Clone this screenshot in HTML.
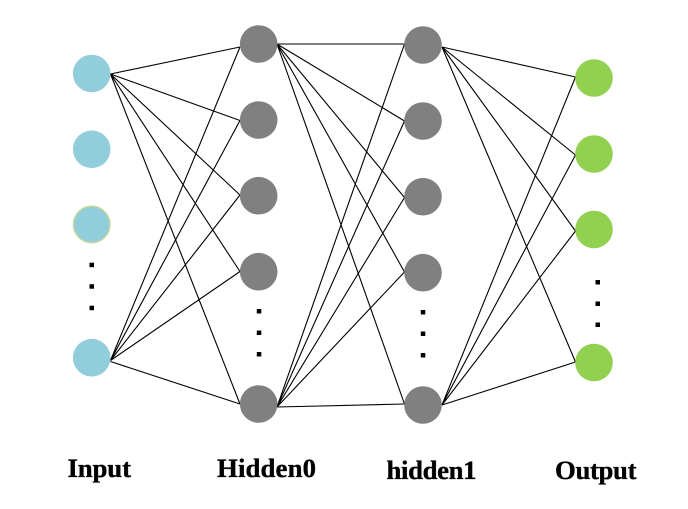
<!DOCTYPE html>
<html>
<head>
<meta charset="utf-8">
<style>
html,body{margin:0;padding:0;background:#fff;width:688px;height:509px;overflow:hidden}
svg{display:block}
text{font-family:"Liberation Serif",serif;font-weight:bold;font-size:26.8px;fill:#000;stroke:#000;stroke-width:.35px}
</style>
</head>
<body>
<svg width="688" height="509" viewBox="0 0 688 509" xmlns="http://www.w3.org/2000/svg">
<g stroke="#000" stroke-width="1.1" fill="none">
<path d="M110.5 74L240 47M110.5 74L240 120.5M110.5 74L240 195M110.5 74L240 271.5M110.5 74L240 404"/>
<path d="M110.5 360.5L240 47M110.5 360.5L240 120.5M110.5 360.5L240 195M110.5 360.5L240 271.5M110.5 361.5L240 404"/>
<path d="M277 44L404.5 44M277 44L404.5 121M277 44L404.5 197.5M277 44L404.5 272M277 44L404.5 404"/>
<path d="M277 407L404.5 44M277 407L404.5 121M277 407L404.5 197.5M277 407L404.5 272M277 407L404.5 404"/>
<path d="M442 47L575.5 77M442 47L575.5 155M442 47L575.5 231M442 47L575.5 362"/>
<path d="M442 405L575.5 77M442 405L575.5 155M442 405L575.5 231M442 405L575.5 362"/>
</g>
<g fill="#92cddc">
<circle cx="91.7" cy="73.5" r="18.8"/>
<circle cx="91.7" cy="149.3" r="18.8"/>
<circle cx="91.7" cy="224.5" r="18.2" stroke="#c3d69b" stroke-width="1.5"/>
<circle cx="91.7" cy="357.7" r="18.8"/>
</g>
<g fill="#808080">
<circle cx="258.7" cy="44" r="18.8"/>
<circle cx="258.7" cy="120" r="18.8"/>
<circle cx="258.7" cy="195.7" r="18.8"/>
<circle cx="258.7" cy="271.7" r="18.8"/>
<circle cx="258.7" cy="404" r="18.8"/>
<circle cx="423" cy="45" r="18.8"/>
<circle cx="423" cy="121" r="18.8"/>
<circle cx="423" cy="196.7" r="18.8"/>
<circle cx="423" cy="272.7" r="18.8"/>
<circle cx="423" cy="405" r="18.8"/>
</g>
<g fill="#92d050">
<circle cx="594" cy="78" r="18.8"/>
<circle cx="594" cy="154" r="18.8"/>
<circle cx="594" cy="229.5" r="18.8"/>
<circle cx="594" cy="362.5" r="18.8"/>
</g>
<g fill="#000">
<rect x="89.5" y="262.7" width="4.5" height="4.5"/>
<rect x="89.5" y="284.2" width="4.5" height="4.5"/>
<rect x="89.5" y="305.7" width="4.5" height="4.5"/>
<rect x="256.8" y="309" width="4.5" height="4.5"/>
<rect x="256.8" y="330.5" width="4.5" height="4.5"/>
<rect x="256.8" y="352" width="4.5" height="4.5"/>
<rect x="420.8" y="310" width="4.5" height="4.5"/>
<rect x="420.8" y="331.5" width="4.5" height="4.5"/>
<rect x="420.8" y="353" width="4.5" height="4.5"/>
<rect x="595.5" y="280" width="4.5" height="4.5"/>
<rect x="595.5" y="301.5" width="4.5" height="4.5"/>
<rect x="595.5" y="322.5" width="4.5" height="4.5"/>
</g>
<text x="67.5" y="477" textLength="63.5">Input</text>
<text x="217" y="477" textLength="99">Hidden0</text>
<text x="386.5" y="479" textLength="90">hidden1</text>
<text x="555" y="479" textLength="81.5">Output</text>
</svg>
</body>
</html>
